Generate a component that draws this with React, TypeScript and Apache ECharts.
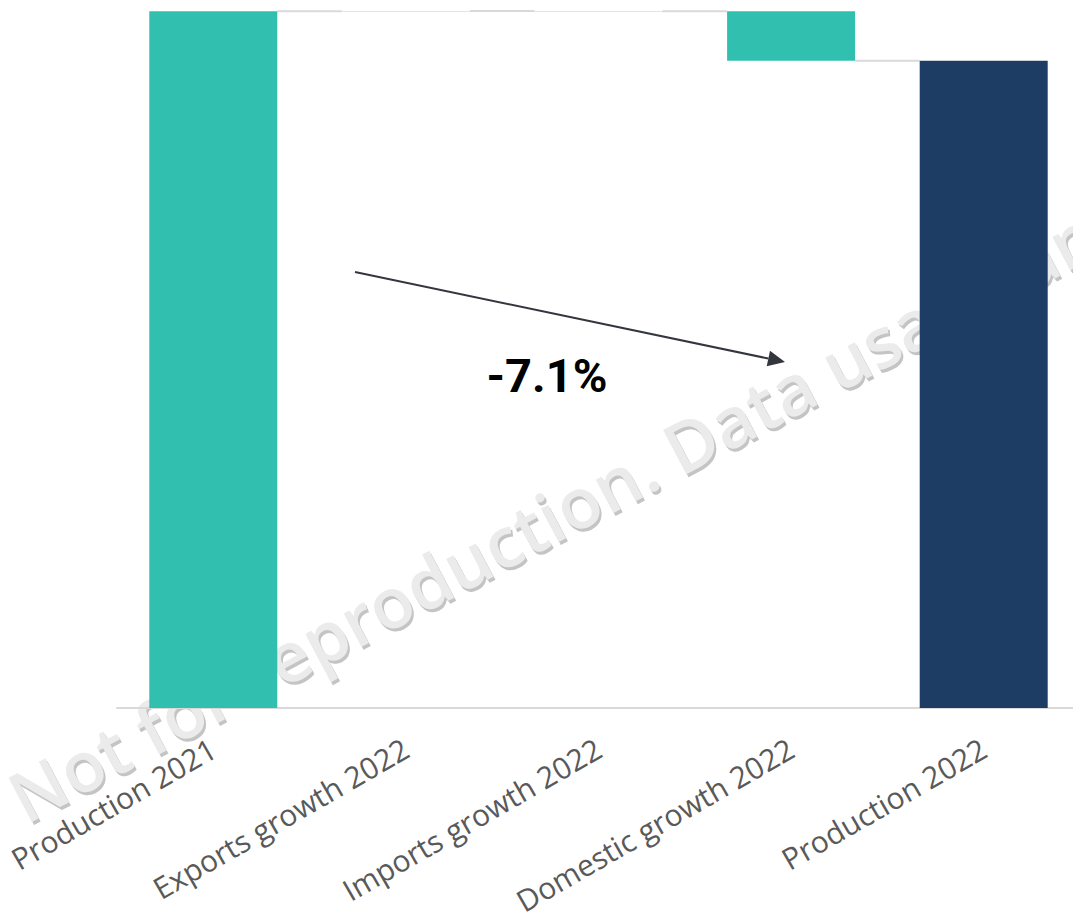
import React, { useEffect, useRef } from "react";
import * as echarts from "echarts";

const categories = [
  "Production 2021",
  "Exports growth 2022",
  "Imports growth 2022",
  "Domestic growth 2022",
  "Production 2022",
];
// change values (first and last are totals)
const values = [100, 0.05, -0.05, -7.1, 92.9];
const isTotal = [true, false, false, false, true];
const changeLabel = "-7.1%";
const watermark = "Not for reproduction. Data usage and";

const TEAL = "#31bfb0";
const NAVY = "#1e3d64";

export default function App() {
  const ref = useRef<HTMLDivElement>(null);
  useEffect(() => {
    if (!ref.current) return;
    const chart = echarts.init(ref.current, undefined, { renderer: "svg" });

    const base: number[] = [];
    const delta: any[] = [];
    const levels: number[] = [];
    let running = 0;
    values.forEach((v, i) => {
      if (isTotal[i]) {
        base.push(0);
        delta.push({ value: v, itemStyle: { color: i === 0 ? TEAL : NAVY } });
        running = v;
      } else {
        const next = running + v;
        base.push(Math.min(running, next));
        delta.push({ value: Math.abs(v), itemStyle: { color: TEAL } });
        running = next;
      }
      levels.push(running);
    });
    const connectorData = levels.slice(0, -1).map((l, i) => [i, l]);

    // arrow annotation
    const ax1 = 355, ay1 = 272, ax2 = 785, ay2 = 362;
    const ang = Math.atan2(ay2 - ay1, ax2 - ax1);
    const hl = 17, hw = 8;
    const bx = ax2 - hl * Math.cos(ang), by = ay2 - hl * Math.sin(ang);
    const px = -Math.sin(ang), py = Math.cos(ang);

    const wmX = 30, wmY = 832, wmRot = (28 * Math.PI) / 180;
    const wmFont = "600 70px 'Open Sans'";

    chart.setOption({
      animation: false,
      grid: { left: 117, right: -7, top: 11, bottom: 211, outerBoundsMode: "none", containLabel: false },
      xAxis: {
        type: "category",
        data: categories,
        axisLine: { show: true, lineStyle: { color: "#d9d9d9", width: 2 } },
        axisTick: { show: false },
        axisLabel: {
          interval: 0,
          rotate: 30,
          margin: 38,
          color: "#595959",
          fontFamily: "Open Sans",
          fontSize: 30,
        },
      },
      yAxis: {
        type: "value",
        min: 0,
        max: 100.05,
        show: false,
        splitLine: { show: false },
      },
      graphic: [
        {
          type: "text",
          z: -11,
          x: wmX + 2,
          y: wmY + 3,
          rotation: wmRot,
          style: {
            text: watermark,
            fill: "#c4c4c4",
            font: wmFont,
            textAlign: "left",
            textVerticalAlign: "bottom",
          },
        },
        {
          type: "text",
          z: -10,
          x: wmX,
          y: wmY,
          rotation: wmRot,
          style: {
            text: watermark,
            fill: "#ebebeb",
            font: wmFont,
            textAlign: "left",
            textVerticalAlign: "bottom",
          },
        },
        {
          type: "line",
          z: 100,
          shape: { x1: ax1, y1: ay1, x2: bx, y2: by },
          style: { stroke: "#33373d", lineWidth: 2 },
        },
        {
          type: "polygon",
          z: 100,
          shape: {
            points: [
              [ax2, ay2],
              [bx + px * hw, by + py * hw],
              [bx - px * hw, by - py * hw],
            ],
          },
          style: { fill: "#33373d" },
        },
        {
          type: "text",
          z: 100,
          x: 547,
          y: 375,
          style: {
            text: changeLabel,
            fill: "#000",
            font: "bold 47px Roboto",
            textAlign: "center",
            textVerticalAlign: "middle",
          },
        },
      ],
      series: [
        {
          type: "bar",
          stack: "w",
          barWidth: 128,
          data: base,
          itemStyle: { color: "transparent" },
          silent: true,
        },
        {
          type: "bar",
          stack: "w",
          barWidth: 128,
          data: delta,
        },
        {
          type: "custom",
          data: connectorData,
          z: 1,
          renderItem: (params: any, api: any) => {
            const i = api.value(0);
            const lvl = api.value(1);
            const p = api.coord([i, lvl]);
            const band = api.size([1, 0])[0];
            const bw = 128;
            return {
              type: "line",
              shape: {
                x1: p[0] + bw / 2,
                y1: p[1],
                x2: p[0] + band - bw / 2,
                y2: p[1],
              },
              style: { stroke: "#d9d9d9", lineWidth: 2 },
            };
          },
        },
      ],
    });
    return () => chart.dispose();
  }, []);
  return (
    <div
      ref={ref}
      style={{ position: "fixed", left: 0, top: 0, width: 1073, height: 919, background: "#fff" }}
    />
  );
}
